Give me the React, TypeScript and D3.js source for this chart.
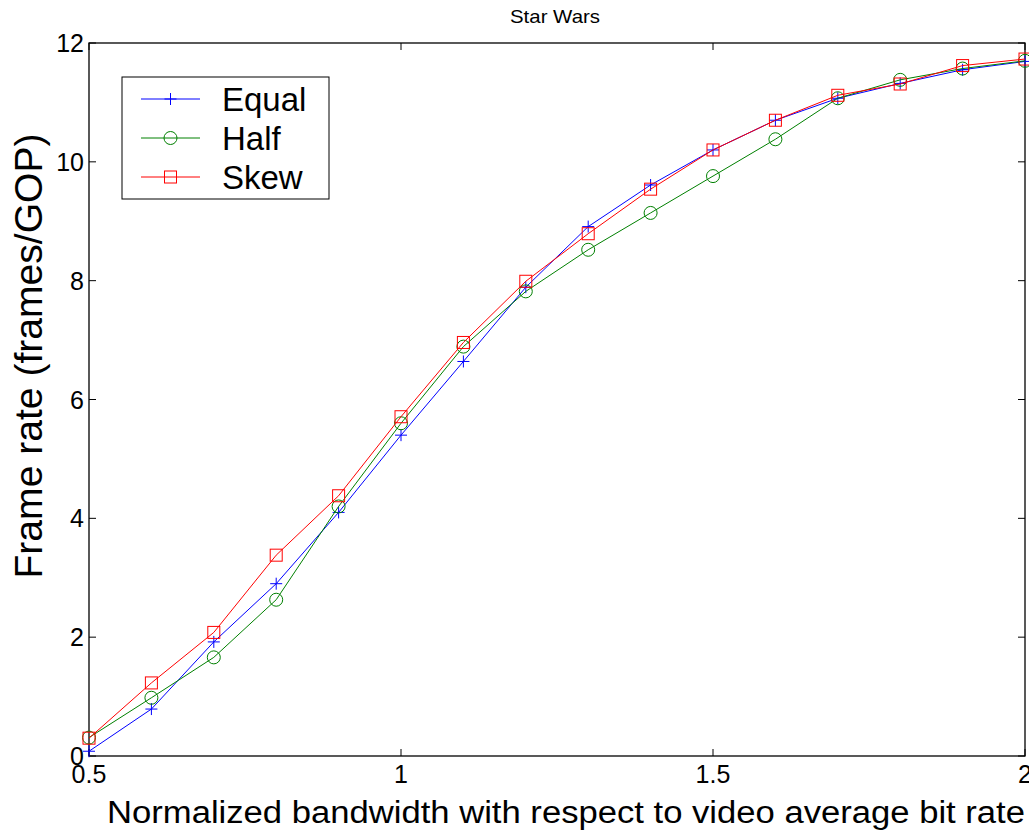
import React, { useEffect, useRef } from "react";
import * as d3 from "d3";

const xValues = [0.5, 0.6, 0.7, 0.8, 0.9, 1.0, 1.1, 1.2, 1.3, 1.4, 1.5, 1.6, 1.7, 1.8, 1.9, 2.0];
const equalValues = [0.08, 0.79, 1.92, 2.9, 4.1, 5.4, 6.64, 7.89, 8.91, 9.61, 10.2, 10.7, 11.07, 11.32, 11.55, 11.69];
const halfValues = [0.31, 0.98, 1.66, 2.63, 4.2, 5.6, 6.89, 7.82, 8.52, 9.14, 9.76, 10.38, 11.07, 11.38, 11.57, 11.7];
const skewValues = [0.3, 1.23, 2.08, 3.38, 4.38, 5.71, 6.96, 7.99, 8.79, 9.54, 10.2, 10.7, 11.12, 11.31, 11.62, 11.73];
const xTicks = [0.5, 1, 1.5, 2];
const yTicks = [0, 2, 4, 6, 8, 10, 12];
const seriesNames = ["Equal", "Half", "Skew"];
const seriesColors = ["#0000ff", "#008000", "#ff0000"];
const seriesMarkers = ["plus", "circle", "square"];

export default function App() {
  const ref = useRef<SVGSVGElement | null>(null);
  useEffect(() => {
    const svg = d3.select(ref.current);
    svg.selectAll("*").remove();
    const W = 1029, H = 830;
    const left = 89, right = 1025, top = 43, bottom = 756;
    const x = d3.scaleLinear().domain([0.5, 2]).range([left, right]);
    const y = d3.scaleLinear().domain([0, 12]).range([bottom, top]);
    const font = "Liberation Sans, Arial, Helvetica, sans-serif";

    svg.append("rect").attr("x", 0).attr("y", 0).attr("width", W).attr("height", H).attr("fill", "#fff");

    const tl = 7;
    const g = svg.append("g");
    xTicks.forEach((t) => {
      g.append("line").attr("x1", x(t)).attr("x2", x(t)).attr("y1", bottom).attr("y2", bottom - tl).attr("stroke", "#000");
      g.append("line").attr("x1", x(t)).attr("x2", x(t)).attr("y1", top).attr("y2", top + tl).attr("stroke", "#000");
      g.append("text").attr("x", x(t)).attr("y", bottom + 27).attr("text-anchor", "middle")
        .attr("font-family", font).attr("font-size", 25).text(d3.format("")(t));
    });
    yTicks.forEach((t) => {
      g.append("line").attr("x1", left).attr("x2", left + tl).attr("y1", y(t)).attr("y2", y(t)).attr("stroke", "#000");
      g.append("line").attr("x1", right).attr("x2", right - tl).attr("y1", y(t)).attr("y2", y(t)).attr("stroke", "#000");
      g.append("text").attr("x", left - 5).attr("y", y(t) + 9).attr("text-anchor", "end")
        .attr("font-family", font).attr("font-size", 25).text(String(t));
    });
    g.append("rect").attr("x", left).attr("y", top).attr("width", right - left).attr("height", bottom - top)
      .attr("fill", "none").attr("stroke", "#000").attr("stroke-width", 1.3);

    const allSeries = [equalValues, halfValues, skewValues];
    const line = d3.line<number>().x((_, i) => x(xValues[i])).y((d) => y(d));

    const drawMarker = (sel: any, kind: string, cx: number, cy: number, color: string) => {
      if (kind === "plus") {
        sel.append("path").attr("d", `M${cx - 6},${cy}H${cx + 6}M${cx},${cy - 6}V${cy + 6}`)
          .attr("stroke", color).attr("stroke-width", 1).attr("fill", "none");
      } else if (kind === "circle") {
        sel.append("circle").attr("cx", cx).attr("cy", cy).attr("r", 6.5)
          .attr("stroke", color).attr("stroke-width", 1).attr("fill", "none");
      } else {
        sel.append("rect").attr("x", cx - 6).attr("y", cy - 6).attr("width", 12).attr("height", 12)
          .attr("stroke", color).attr("stroke-width", 1).attr("fill", "none");
      }
    };

    allSeries.forEach((vals, si) => {
      const sg = svg.append("g");
      sg.append("path").attr("d", line(vals)).attr("fill", "none").attr("stroke", seriesColors[si]).attr("stroke-width", 1);
      vals.forEach((v, i) => drawMarker(sg, seriesMarkers[si], x(xValues[i]), y(v), seriesColors[si]));
    });

    // legend
    const lg = svg.append("g");
    lg.append("rect").attr("x", 122).attr("y", 77).attr("width", 207).attr("height", 122)
      .attr("fill", "#fff").attr("stroke", "#000").attr("stroke-width", 1);
    seriesNames.forEach((name, i) => {
      const ly = 99 + i * 39;
      lg.append("line").attr("x1", 141).attr("x2", 200).attr("y1", ly).attr("y2", ly).attr("stroke", seriesColors[i]);
      drawMarker(lg, seriesMarkers[i], 170.5, ly, seriesColors[i]);
      lg.append("text").attr("x", 222).attr("y", ly + 12).attr("font-family", font).attr("font-size", 33).text(name);
    });

    // titles
    svg.append("text").attr("x", 555).attr("y", 23).attr("text-anchor", "middle")
      .attr("font-family", font).attr("font-size", 19).attr("textLength", 90).attr("lengthAdjust", "spacingAndGlyphs")
      .text("Star Wars");
    svg.append("text").attr("x", 566).attr("y", 823).attr("text-anchor", "middle")
      .attr("font-family", font).attr("font-size", 31).attr("textLength", 918).attr("lengthAdjust", "spacingAndGlyphs")
      .text("Normalized bandwidth with respect to video average bit rate");
    svg.append("text").attr("transform", `translate(42,356) rotate(-90)`).attr("text-anchor", "middle")
      .attr("font-family", font).attr("font-size", 39).attr("textLength", 445).attr("lengthAdjust", "spacingAndGlyphs")
      .text("Frame rate (frames/GOP)");
  }, []);
  return (
    <svg ref={ref} width={1029} height={830} style={{ position: "absolute", left: 0, top: 0, display: "block" }} />
  );
}
